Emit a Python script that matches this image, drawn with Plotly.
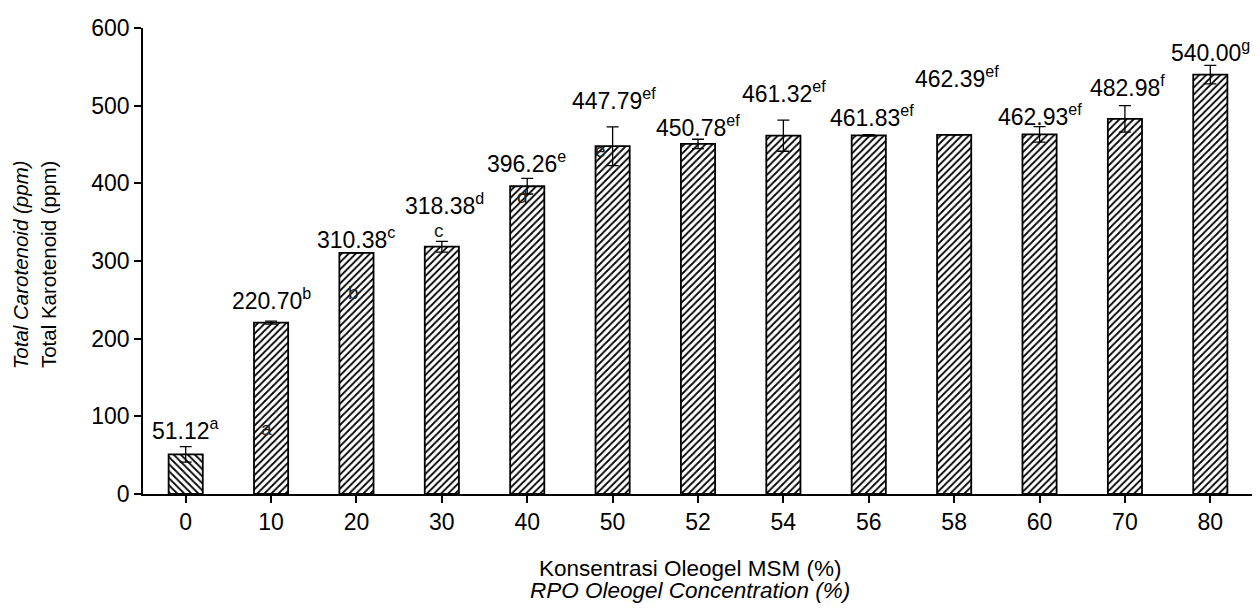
import plotly.graph_objects as go

categories = ["0", "10", "20", "30", "40", "50", "52", "54", "56", "58", "60", "70", "80"]
values = [51.12, 220.70, 310.38, 318.38, 396.26, 447.79, 450.78, 461.32, 461.83, 462.39, 462.93, 482.98, 540.00]
errors = [10, 2, 0, 7, 10, 25, 6, 20, 1, 0, 10, 17, 12]
letters = ["a", "b", "c", "d", "e", "ef", "ef", "ef", "ef", "ef", "ef", "f", "g"]
label_y = [84, 251, 330, 374, 428, 508, 474, 518, 487, 537, 488, 525, 571]
label_dx = [0, 0, 0, 3, -1, 1, 0, 1, 3, 3, 0, 3, 0]
# stray letters inside bars
stray_text = ["a", "b", "c", "d", "e"]
stray_idx = [1, 2, 3, 4, 5]
stray_y = [84, 260, 339, 383, 442]
stray_dx = [-5, -3, -3, -5, -12]

FONT = "Liberation Sans, Arial, sans-serif"
shapes_pattern = ["\\"] + ["/"] * (len(categories) - 1)

fig = go.Figure()
fig.add_trace(go.Bar(
    x=categories, y=values, width=0.4,
    marker=dict(
        color="white",
        line=dict(color="black", width=1.8),
        pattern=dict(shape=shapes_pattern, fgcolor="black", bgcolor="white",
                     size=5, solidity=0.35, fillmode="replace"),
    ),
    error_y=dict(type="data", array=errors, visible=True, color="black",
                 thickness=1.3, width=6),
    showlegend=False,
))

annotations = []
for i, (v, l, yy, dx) in enumerate(zip(values, letters, label_y, label_dx)):
    annotations.append(dict(
        x=i, y=yy, xref="x", yref="y", xshift=dx,
        text=f"{v:.2f}<sup>{l}</sup>", showarrow=False,
        font=dict(family=FONT, size=23, color="black"),
    ))
for t, i, yy, dx in zip(stray_text, stray_idx, stray_y, stray_dx):
    annotations.append(dict(
        x=i, y=yy, xref="x", yref="y", xshift=dx,
        text=t, showarrow=False,
        font=dict(family=FONT, size=19, color="#222"),
    ))

# axis titles
annotations += [
    dict(x=0.4928, y=-0.159, xref="paper", yref="paper", showarrow=False,
         text="Konsentrasi Oleogel MSM (%)", xanchor="center", yanchor="middle",
         font=dict(family=FONT, size=22.5, color="black")),
    dict(x=0.4928, y=-0.207, xref="paper", yref="paper", showarrow=False,
         text="<i>RPO Oleogel Concentration (%)</i>", xanchor="center", yanchor="middle",
         font=dict(family=FONT, size=22.5, color="black")),
    dict(x=-0.110, y=0.4926, xref="paper", yref="paper", showarrow=False, textangle=-90,
         text="<i>Total Carotenoid (ppm)</i>", xanchor="center", yanchor="middle",
         font=dict(family=FONT, size=20.5, color="black")),
    dict(x=-0.085, y=0.4926, xref="paper", yref="paper", showarrow=False, textangle=-90,
         text="Total Karotenoid (ppm)", xanchor="center", yanchor="middle",
         font=dict(family=FONT, size=20.5, color="black")),
]

fig.update_layout(
    width=1252, height=601,
    margin=dict(l=135, r=7, t=15, b=115),
    paper_bgcolor="white", plot_bgcolor="white",
    font=dict(family=FONT, size=23, color="black"),
    annotations=annotations,
    xaxis=dict(
        type="category", range=[-0.5, 12.5], showline=True, linecolor="black", linewidth=1.5,
        ticks="outside", ticklen=7, tickwidth=1.5, tickcolor="black",
        tickfont=dict(family=FONT, size=23, color="black"),
        showgrid=False, zeroline=False,
    ),
    yaxis=dict(
        range=[0, 600], dtick=100, showline=True, linecolor="black", linewidth=1.5,
        ticks="outside", ticklen=7, tickwidth=1.5, tickcolor="black",
        tickfont=dict(family=FONT, size=23, color="black"),
        showgrid=False, zeroline=False,
    ),
    shapes=[dict(type="line", xref="paper", x0=1, x1=1, yref="y",
                 ysizemode="pixel", yanchor=0, y0=0, y1=-7,
                 line=dict(color="black", width=1.5))],
)

fig.write_html("out.html")
